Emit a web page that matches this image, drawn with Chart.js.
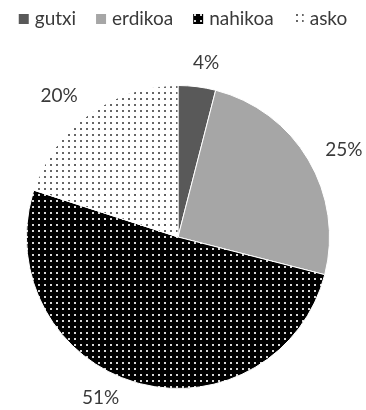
<!DOCTYPE html>
<html lang="eu">
<head>
<meta charset="UTF-8">
<title>gutxi / erdikoa / nahikoa / asko</title>
<script src="https://cdn.jsdelivr.net/npm/chart.js"></script>
<style>
    body { margin: 0; background: #fff; }
    canvas { display: block; }
</style>
</head>
<body>
<canvas id="myChart" width="366" height="410"></canvas>
<script>
    const categories = ['gutxi', 'erdikoa', 'nahikoa', 'asko'];
    const percents = [4, 25, 51, 20];
    const percentLabels = percents.map(v => v + '%');

    const FONT = '19px Lato';
    const TEXT_COLOR = '#3a3a3a';

    const canvas = document.getElementById('myChart');
    const ctx = canvas.getContext('2d');

    // small tiled dot fills for the two patterned slices
    function dotPattern(bg, dot) {
        const tile = document.createElement('canvas');
        tile.width = 6;
        tile.height = 6;
        const g = tile.getContext('2d');
        g.fillStyle = bg;
        g.fillRect(0, 0, 6, 6);
        g.fillStyle = dot;
        g.fillRect(2, 2, 2, 2);
        return ctx.createPattern(tile, 'repeat');
    }

    const fills = [
        '#595959',
        '#a6a6a6',
        dotPattern('#000000', 'rgba(255,255,255,0.85)'),
        dotPattern('#ffffff', 'rgba(0,0,0,0.6)')
    ];

    // one-line legend across the top
    const legendRow = {
        id: 'legendRow',
        afterDraw(chart) {
            const c = chart.ctx;
            const box = 10, gap = 6, spacing = 20;
            c.save();
            c.font = FONT;
            c.textBaseline = 'middle';
            const widths = categories.map(t => c.measureText(t).width);
            const total = widths.reduce((s, w) => s + box + gap + w, 0) + spacing * (categories.length - 1);
            let x = (chart.width - total) / 2;
            categories.forEach((t, i) => {
                c.fillStyle = fills[i];
                c.fillRect(x, 14, box, box);
                c.fillStyle = TEXT_COLOR;
                c.fillText(t, x + box + gap, 19);
                x += box + gap + widths[i] + spacing;
            });
            c.restore();
        }
    };

    // percentage labels outside each slice
    const sliceLabels = {
        id: 'sliceLabels',
        afterDatasetsDraw(chart, args, opts) {
            const c = chart.ctx;
            const meta = chart.getDatasetMeta(0);
            c.save();
            c.font = FONT;
            c.fillStyle = TEXT_COLOR;
            c.textAlign = 'center';
            c.textBaseline = 'middle';
            meta.data.forEach((arc, i) => {
                const p = arc.getProps(['x', 'y', 'startAngle', 'endAngle', 'outerRadius'], true);
                const a = (p.startAngle + p.endAngle) / 2 + (opts.nudge[i] || 0) * Math.PI / 180;
                const text = percentLabels[i];
                const w = c.measureText(text).width, h = 14;
                const cos = Math.cos(a), sin = Math.sin(a);
                const r = p.outerRadius + opts.gap + Math.abs(cos) * w / 2 + Math.abs(sin) * h / 2;
                const lx = p.x + cos * r;
                const ly = Math.min(p.y + sin * r, chart.height - h / 2 - 5);
                c.fillText(text, lx, ly);
            });
            c.restore();
        }
    };

    new Chart(ctx, {
        type: 'pie',
        data: {
            labels: categories,
            datasets: [{
                data: percents,
                backgroundColor: fills,
                borderColor: '#ffffff',
                borderWidth: 1
            }]
        },
        options: {
            responsive: false,
            animation: false,
            layout: { padding: { top: 85, left: 25, right: 35, bottom: 21 } },
            plugins: {
                legend: { display: false },
                tooltip: { enabled: false },
                sliceLabels: { gap: 16, nudge: [2, 3, 9, -4] }
            }
        },
        plugins: [sliceLabels, legendRow]
    });
</script>
</body>
</html>
